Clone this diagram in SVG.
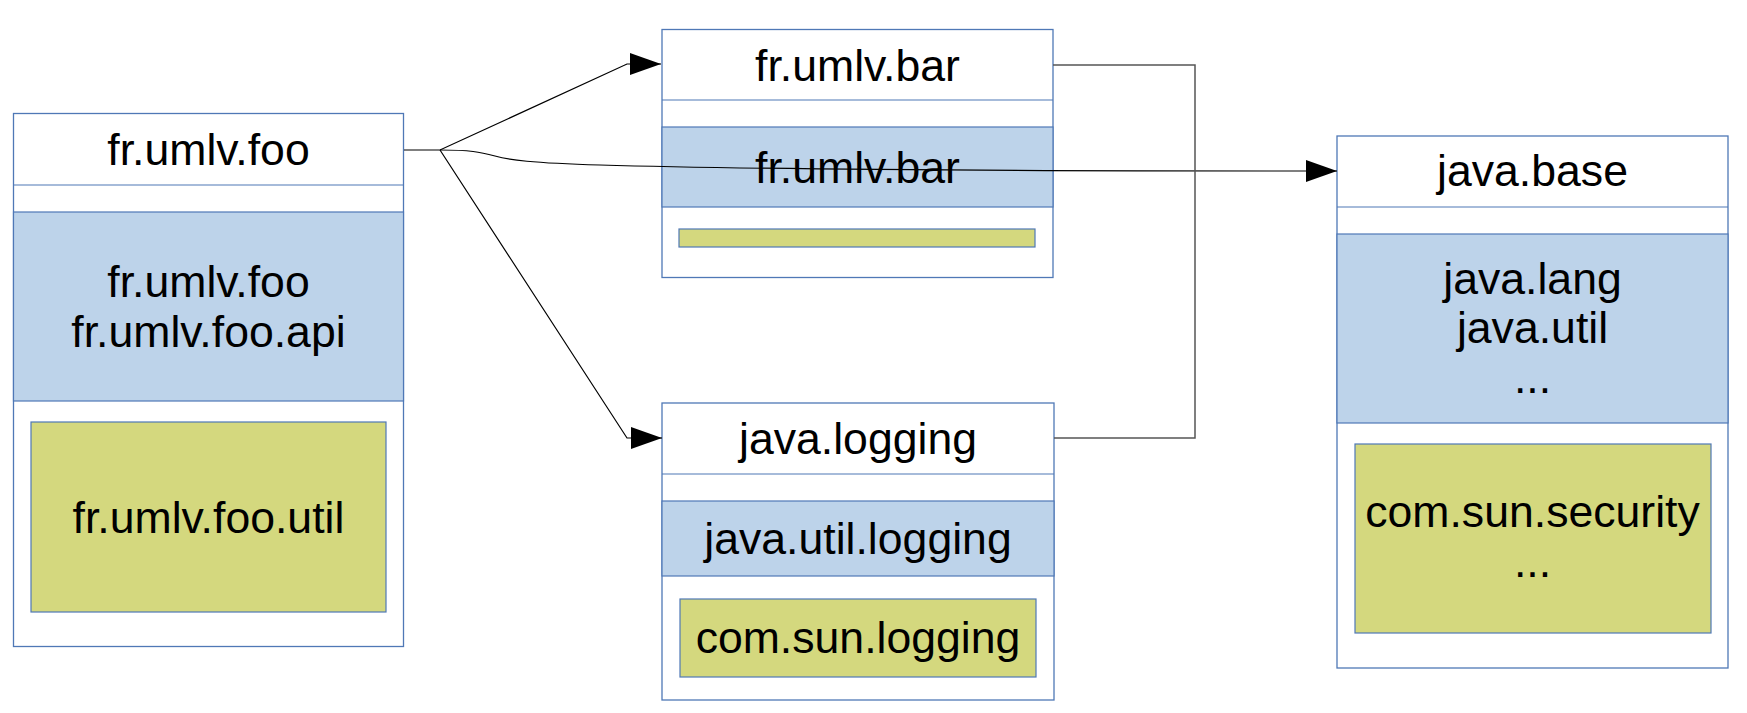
<svg xmlns="http://www.w3.org/2000/svg" width="1747" height="713" viewBox="0 0 1747 713">
<style>
.box{fill:#ffffff;stroke:#4f78b6;stroke-width:1.3}
.sep{stroke:#4f78b6;stroke-width:1.2;fill:none}
.exp{fill:#bdd3ea;stroke:#4f78b6;stroke-width:1.2}
.int{fill:#d4d87e;stroke:#4f78b6;stroke-width:1.2}
.t{font-family:"Liberation Sans",Arial,sans-serif;font-size:44.6px;fill:#000;text-anchor:middle}
.c{fill:none;stroke:#000;stroke-width:1.2}
.g{fill:none;stroke:#555;stroke-width:1.5}
</style>
<defs>
<marker id="arr" markerWidth="32" markerHeight="22" refX="31" refY="11" orient="auto" markerUnits="userSpaceOnUse">
<path d="M0,0 L31,11 L0,22 Z" fill="#000"/>
</marker>
</defs>
<rect width="1747" height="713" fill="#fff"/>

<g id="foo">
<rect class="box" x="13.5" y="113.5" width="390" height="533"/>
<line class="sep" x1="13.5" y1="185" x2="403.5" y2="185"/>
<rect class="exp" x="13.5" y="212" width="390" height="189"/>
<rect class="int" x="31" y="422" width="355" height="190"/>
<text class="t" x="208.5" y="165">fr.umlv.foo</text>
<text class="t" x="208.5" y="297">fr.umlv.foo</text>
<text class="t" x="208.5" y="347">fr.umlv.foo.api</text>
<text class="t" x="208.5" y="533">fr.umlv.foo.util</text>
</g>

<g id="bar">
<rect class="box" x="662" y="29.5" width="391" height="248"/>
<line class="sep" x1="662" y1="100" x2="1053" y2="100"/>
<rect class="exp" x="662" y="127" width="391" height="80"/>
<rect class="int" x="679" y="229" width="356" height="18"/>
<text class="t" x="857.5" y="81">fr.umlv.bar</text>
<text class="t" x="857.5" y="183">fr.umlv.bar</text>
</g>

<g id="logging">
<rect class="box" x="662" y="403" width="392" height="297"/>
<line class="sep" x1="662" y1="474" x2="1054" y2="474"/>
<rect class="exp" x="662" y="501" width="392" height="75"/>
<rect class="int" x="680" y="599" width="356" height="78"/>
<text class="t" x="858" y="454">java.logging</text>
<text class="t" x="858" y="554">java.util.logging</text>
<text class="t" x="858" y="653">com.sun.logging</text>
</g>

<g id="base">
<rect class="box" x="1337" y="136" width="391" height="532"/>
<line class="sep" x1="1337" y1="207" x2="1728" y2="207"/>
<rect class="exp" x="1337" y="234" width="391" height="189"/>
<rect class="int" x="1355" y="444" width="356" height="189"/>
<text class="t" x="1532.5" y="186">java.base</text>
<text class="t" x="1532.5" y="294">java.lang</text>
<text class="t" x="1532.5" y="343">java.util</text>
<text class="t" x="1532.5" y="393">...</text>
<text class="t" x="1532.5" y="527">com.sun.security</text>
<text class="t" x="1532.5" y="577">...</text>
</g>

<g id="connectors">
<path class="c" d="M404,150 H440 L627,64 H661" marker-end="url(#arr)"/>
<path class="c" d="M440,150 L627,438 H662" marker-end="url(#arr)"/>
<path class="c" d="M440,150 C470,150 480,152 495,156 C510,160 530,163 600,165 C700,168 900,171 1337,171" marker-end="url(#arr)"/>
<path class="g" d="M1053,65 H1195 V438 H1054"/>
</g>
</svg>
